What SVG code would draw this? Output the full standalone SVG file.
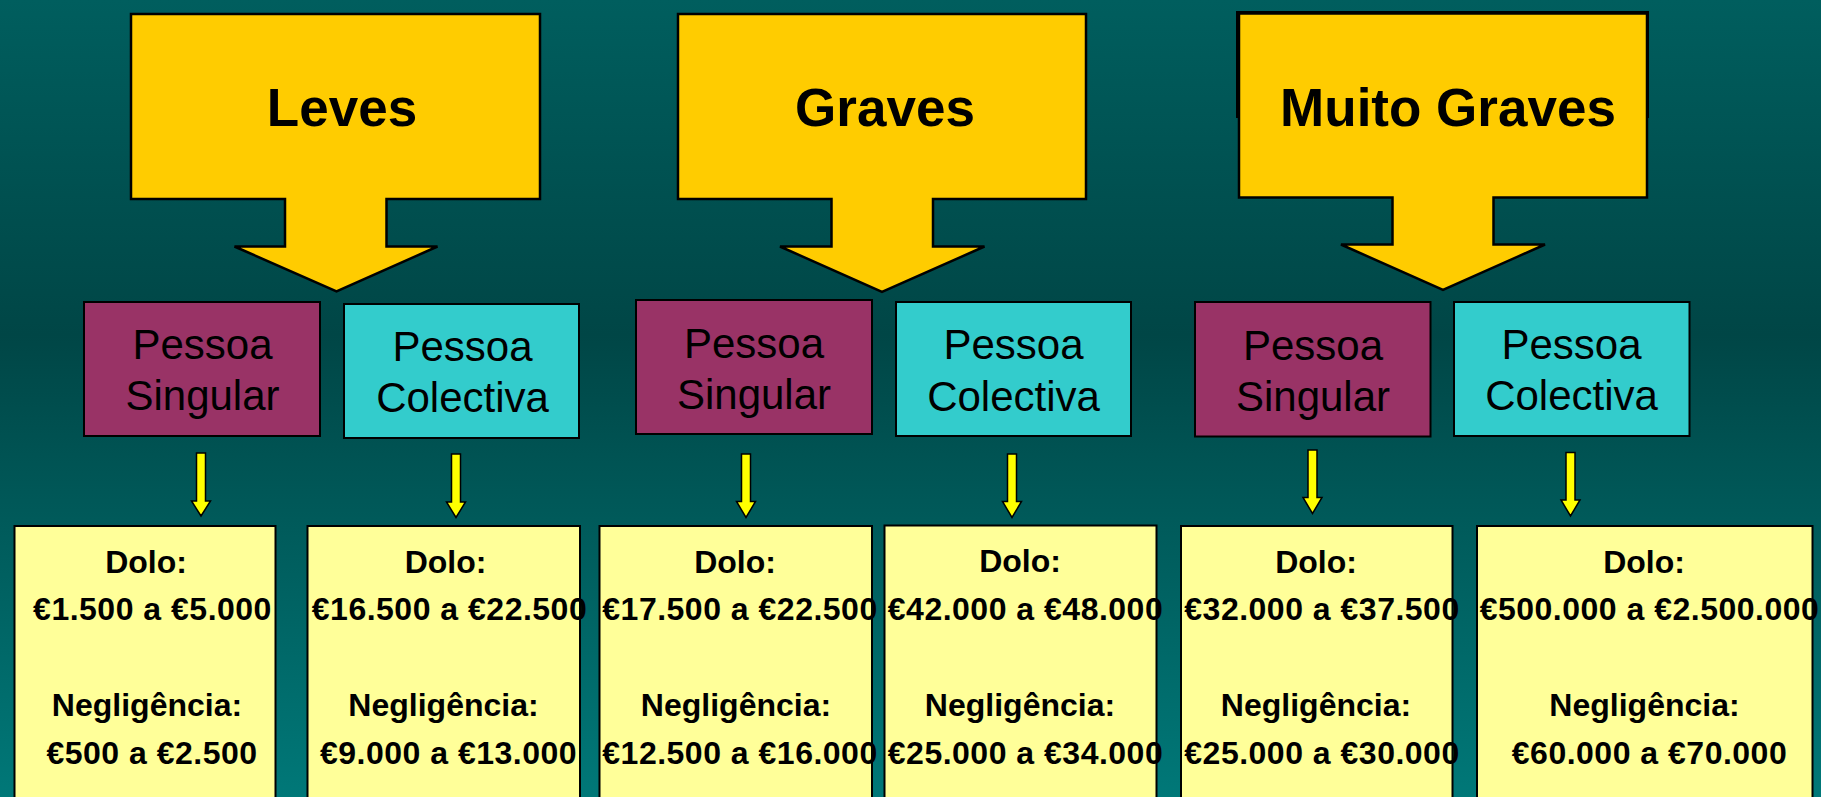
<svg xmlns="http://www.w3.org/2000/svg" width="1821" height="797" viewBox="0 0 1821 797">
<defs>
<linearGradient id="bg" x1="0" y1="0" x2="0" y2="1">
<stop offset="0" stop-color="#005e5e"/>
<stop offset="0.42" stop-color="#004646"/>
<stop offset="1" stop-color="#007878"/>
</linearGradient>
<style>
.callout{fill:#ffcc00;stroke:#000;stroke-width:2.5;stroke-linejoin:miter}
.title{font-family:"Liberation Sans",Arial,sans-serif;font-weight:bold;font-size:53px;fill:#000;text-anchor:middle}
.sing{fill:#993366;stroke:#000;stroke-width:2}
.col{fill:#33cccc;stroke:#000;stroke-width:2}
.pt{font-family:"Liberation Sans",Arial,sans-serif;font-size:42px;fill:#000;text-anchor:middle}
.val{fill:#ffff99;stroke:#000;stroke-width:2}
.lbl{font-family:"Liberation Sans",Arial,sans-serif;font-weight:bold;font-size:32px;fill:#000;text-anchor:middle}
.num{font-family:"Liberation Sans",Arial,sans-serif;font-weight:bold;font-size:32px;fill:#000;text-anchor:middle;letter-spacing:0.5px}
.arr{fill:#ffff00;stroke:#000;stroke-width:1.5;stroke-linejoin:miter}
</style>
</defs>
<rect x="0" y="0" width="1821" height="797" fill="url(#bg)"/>

<g id="leves">
<path class="callout" d="M131,14 H540 V199 H386.5 V246.5 H437.5 L336.5,291.5 L234.5,246.5 H285 V199 H131 Z"/>
<text class="title" x="342" y="126">Leves</text>
</g>
<g id="graves">
<path class="callout" d="M678,14 H1086 V199 H933 V246.5 H984.5 L882,292 L780,246.5 H831.5 V199 H678 Z"/>
<text class="title" x="885" y="126">Graves</text>
</g>
<g id="muito-graves">
<rect x="1237" y="12" width="411" height="105" fill="#ffcc00" stroke="#000" stroke-width="2"/>
<path class="callout" d="M1239,13.5 H1647 V197.5 H1493.5 V244.5 H1545 L1443,290 L1341,244.5 H1392.5 V197.5 H1239 Z"/>
<text class="title" x="1448" y="126">Muito Graves</text>
</g>

<g id="singular-1">
<rect class="sing" x="84" y="302" width="236" height="134"/>
<text class="pt" x="202.5" y="359">Pessoa</text>
<text class="pt" x="202.5" y="410">Singular</text>
</g>
<g id="colectiva-1">
<rect class="col" x="344" y="304" width="235" height="134"/>
<text class="pt" x="462.5" y="361">Pessoa</text>
<text class="pt" x="462.5" y="412">Colectiva</text>
</g>
<g id="singular-2">
<rect class="sing" x="636" y="300" width="236" height="134"/>
<text class="pt" x="754" y="358">Pessoa</text>
<text class="pt" x="754" y="409">Singular</text>
</g>
<g id="colectiva-2">
<rect class="col" x="896" y="302" width="235" height="134"/>
<text class="pt" x="1013.5" y="359">Pessoa</text>
<text class="pt" x="1013.5" y="410.5">Colectiva</text>
</g>
<g id="singular-3">
<rect class="sing" x="1195" y="302" width="235.5" height="134.5"/>
<text class="pt" x="1313" y="360">Pessoa</text>
<text class="pt" x="1313" y="410.5">Singular</text>
</g>
<g id="colectiva-3">
<rect class="col" x="1454" y="302" width="235.5" height="134"/>
<text class="pt" x="1571.5" y="359">Pessoa</text>
<text class="pt" x="1571.5" y="410">Colectiva</text>
</g>

<g id="connectors">
<path class="arr" d="M196.5,453 H205.5 V501 H210.5 L201,516 L191.5,501 H196.5 Z"/>
<path class="arr" d="M451.5,454 H460.5 V502 H465.5 L456,517.5 L446.5,502 H451.5 Z"/>
<path class="arr" d="M741.5,454 H750.5 V501.5 H755.5 L746,517.5 L736.5,501.5 H741.5 Z"/>
<path class="arr" d="M1007.5,454 H1016.5 V501.5 H1021.5 L1012,517.5 L1002.5,501.5 H1007.5 Z"/>
<path class="arr" d="M1308,450 H1317 V497.5 H1322 L1312.5,513.5 L1303,497.5 H1308 Z"/>
<path class="arr" d="M1566,452.5 H1575 V500 H1580 L1570.5,516 L1561,500 H1566 Z"/>
</g>

<g id="valor-1">
<rect class="val" x="14.5" y="526" width="261" height="280"/>
<text class="lbl" x="146" y="572.5">Dolo:</text>
<text class="num" x="152.5" y="620">€1.500 a €5.000</text>
<text class="lbl" x="147" y="716">Negligência:</text>
<text class="num" x="152" y="764">€500 a €2.500</text>
</g>
<g id="valor-2">
<rect class="val" x="307.5" y="526" width="272.5" height="280"/>
<text class="lbl" x="445.5" y="572.5">Dolo:</text>
<text class="num" x="449.5" y="620">€16.500 a €22.500</text>
<text class="lbl" x="443.5" y="716">Negligência:</text>
<text class="num" x="448.5" y="764">€9.000 a €13.000</text>
</g>
<g id="valor-3">
<rect class="val" x="599.5" y="526" width="272.5" height="280"/>
<text class="lbl" x="735" y="572.5">Dolo:</text>
<text class="num" x="740" y="620">€17.500 a €22.500</text>
<text class="lbl" x="736" y="716">Negligência:</text>
<text class="num" x="740" y="764">€12.500 a €16.000</text>
</g>
<g id="valor-4">
<rect class="val" x="884.5" y="525.5" width="272" height="280"/>
<text class="lbl" x="1020" y="571.5">Dolo:</text>
<text class="num" x="1025.5" y="619.5">€42.000 a €48.000</text>
<text class="lbl" x="1020" y="716">Negligência:</text>
<text class="num" x="1025.5" y="764">€25.000 a €34.000</text>
</g>
<g id="valor-5">
<rect class="val" x="1181" y="526" width="271.5" height="280"/>
<text class="lbl" x="1316" y="572.5">Dolo:</text>
<text class="num" x="1322" y="620">€32.000 a €37.500</text>
<text class="lbl" x="1316" y="716">Negligência:</text>
<text class="num" x="1322" y="764">€25.000 a €30.000</text>
</g>
<g id="valor-6">
<rect class="val" x="1477" y="526" width="335.5" height="280"/>
<text class="lbl" x="1644" y="572.5">Dolo:</text>
<text class="num" x="1649.5" y="620">€500.000 a €2.500.000</text>
<text class="lbl" x="1644.5" y="716">Negligência:</text>
<text class="num" x="1649.5" y="764">€60.000 a €70.000</text>
</g>
</svg>
